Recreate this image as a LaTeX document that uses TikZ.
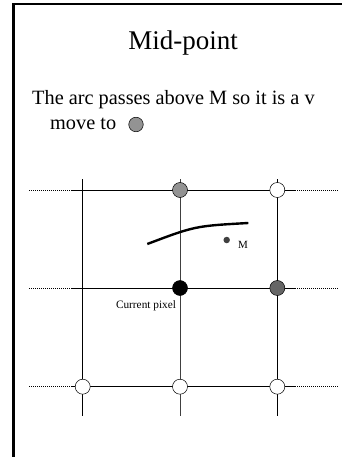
\documentclass[tikz,border=0pt]{standalone}
\usepackage{fontspec}
\setmainfont{Liberation Serif}
\begin{document}
\begin{tikzpicture}[x=1pt,y=-1pt,
  gridline/.style={draw=black,line width=0.7pt},
  dotline/.style={draw=black,line width=0.8pt,dash pattern=on 1pt off 1pt},
  pix/.style={circle,draw=black,line width=0.5pt,minimum size=15pt,inner sep=0pt},
  empty/.style={pix,fill=white},
  chosen/.style={pix,fill=gray!85!white},
  current/.style={pix,fill=black},
  candidate/.style={pix,fill=black!60}]
\useasboundingbox (0,0) rectangle (342,457);
\draw[line width=2.6pt] (13.3,460) -- (13.3,4) -- (345,4);
\node (title) at (183,43) {\fontsize{27}{30}\selectfont Mid-point};
\node[anchor=base west,inner sep=0pt] (l1) at (32,105) {\fontsize{20.3}{24}\selectfont The arc passes above M so it is a v};
\node[anchor=base west,inner sep=0pt] (l2) at (50,130) {\fontsize{20.3}{24}\selectfont move to};
\node[chosen,minimum size=14.5pt] (legend) at (136,124.5) {};
% grid coordinates
\coordinate (v1t) at (82.7,179); \coordinate (v1b) at (82.7,416);
\coordinate (v2t) at (180,179); \coordinate (v2b) at (180,416);
\coordinate (v3t) at (277.3,179); \coordinate (v3b) at (277.3,416);
\foreach \r/\y in {a/190,b/288,c/386.7}{
  \coordinate (\r L) at (29,\y); \coordinate (\r l) at (72,\y);
  \coordinate (\r r) at (295,\y); \coordinate (\r R) at (338,\y);
  \draw[dotline] (\r L) -- (\r l);
  \draw[dotline] (\r r) -- (\r R);
  \draw[gridline] (\r l) -- (\r r);
}
\draw[gridline] (v1t) -- (v1b);
\draw[gridline,draw=black!75] (v2t) -- (v2b);
\draw[gridline] (v3t) -- (v3b);
% pixels
\node[chosen] (p22) at (180,190) {};
\node[empty] (p32) at (277.3,190) {};
\node[current] (p21) at (180,288) {};
\node[candidate] (p31) at (277.3,288) {};
\node[empty] (p10) at (82.7,386.7) {};
\node[empty] (p20) at (180,386.7) {};
\node[empty] (p30) at (277.3,386.7) {};
% arc
\coordinate (arcS) at (147.3,244);
\coordinate (arcC) at (195,226);
\coordinate (arcE) at (248.3,223);
\draw[line width=2.4pt] (arcS) .. controls (arcC) .. (arcE);
% midpoint
\node[circle,fill=black!75,inner sep=0pt,minimum size=6.5pt] (M) at (226.7,240) {};
\node[anchor=west,inner sep=0pt] (Mlabel) at (238,245) {\fontsize{11}{13}\selectfont M};
\node[inner sep=0pt] (curlabel) at (146,305.5) {\fontsize{11.3}{13}\selectfont Current pixel};
\end{tikzpicture}
\end{document}
